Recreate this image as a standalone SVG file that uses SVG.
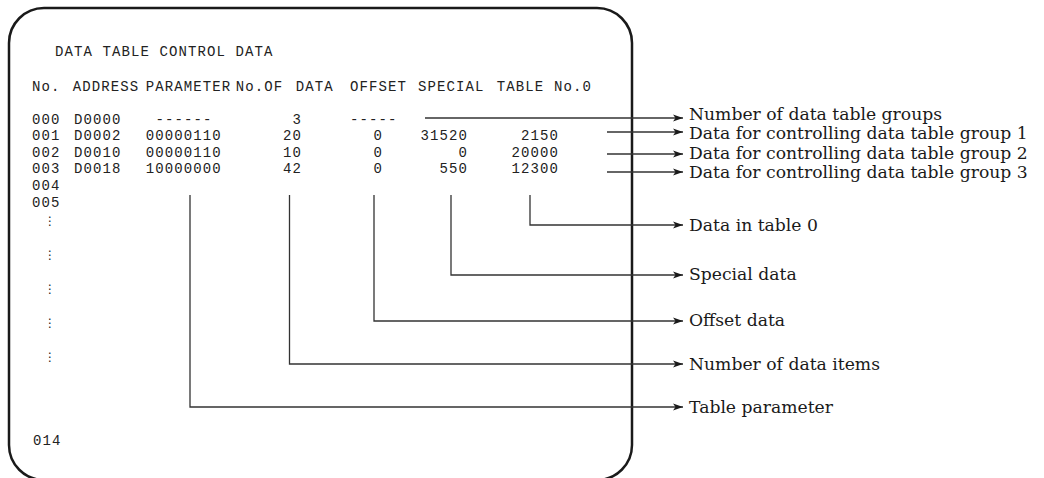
<svg xmlns="http://www.w3.org/2000/svg" width="1044" height="478" viewBox="0 0 1044 478">
<style>
.m{font-family:"Liberation Mono","Courier New",monospace;font-size:14px;letter-spacing:1.1px;fill:#222}
.e{text-anchor:end}
.d{font-family:"DejaVu Sans","Noto Sans",sans-serif;font-size:12px;fill:#222;text-anchor:middle}
.lb{font-family:"DejaVu Serif","Liberation Serif",serif;font-size:17.2px;fill:#1a1a1a}
.c{fill:none;stroke:#333;stroke-width:1.3}
</style>
<defs>
<marker id="ah" markerUnits="userSpaceOnUse" markerWidth="12" markerHeight="8" viewBox="-10 -4 12 8" refX="0" refY="0" orient="auto">
<path d="M0,0 L-10,-3.5 L-7.5,0 L-10,3.5 Z" fill="#1a1a1a"/>
</marker>
</defs>
<rect id="frame" x="9" y="8" width="623" height="472" rx="35" ry="35" fill="none" stroke="#1a1a1a" stroke-width="2.5"/>
<g id="screen">
<text class="m" x="55" y="56">DATA TABLE CONTROL DATA</text>
<text class="m" x="32" y="90.7">No.</text>
<text class="m" x="72.7" y="90.7">ADDRESS</text>
<text class="m" x="145.7" y="90.7">PARAMETER</text>
<text class="m" x="235.7" y="90.7">No.OF</text>
<text class="m" x="295.7" y="90.7">DATA</text>
<text class="m" x="350" y="90.7">OFFSET</text>
<text class="m" x="418" y="90.7">SPECIAL</text>
<text class="m" x="496.7" y="90.7">TABLE</text>
<text class="m" x="554" y="90.7">No.0</text>
<text class="m" x="32" y="123.5">000</text>
<text class="m" x="74" y="123.5">D0000</text>
<text class="m" x="155.5" y="123.5">------</text>
<text class="m e" x="302" y="123.5">3</text>
<text class="m" x="350" y="123.5">-----</text>
<text class="m" x="32" y="140">001</text>
<text class="m" x="74" y="140">D0002</text>
<text class="m" x="145.7" y="140">00000110</text>
<text class="m e" x="302" y="140">20</text>
<text class="m e" x="383" y="140">0</text>
<text class="m e" x="468" y="140">31520</text>
<text class="m e" x="559" y="140">2150</text>
<text class="m" x="32" y="156.7">002</text>
<text class="m" x="74" y="156.7">D0010</text>
<text class="m" x="145.7" y="156.7">00000110</text>
<text class="m e" x="302" y="156.7">10</text>
<text class="m e" x="383" y="156.7">0</text>
<text class="m e" x="468" y="156.7">0</text>
<text class="m e" x="559" y="156.7">20000</text>
<text class="m" x="32" y="173.3">003</text>
<text class="m" x="74" y="173.3">D0018</text>
<text class="m" x="145.7" y="173.3">10000000</text>
<text class="m e" x="302" y="173.3">42</text>
<text class="m e" x="383" y="173.3">0</text>
<text class="m e" x="468" y="173.3">550</text>
<text class="m e" x="559" y="173.3">12300</text>
<text class="m" x="32" y="190">004</text>
<text class="m" x="32" y="206.6">005</text>
<text class="d" x="50" y="225">⋮</text>
<text class="d" x="50" y="259">⋮</text>
<text class="d" x="50" y="293">⋮</text>
<text class="d" x="50" y="327">⋮</text>
<text class="d" x="50" y="361">⋮</text>
<text class="m" x="33" y="444.5">014</text>
</g>
<g id="connectors">
<path class="c" d="M425,118 H683" marker-end="url(#ah)"/>
<path class="c" d="M607,132 H683" marker-end="url(#ah)"/>
<path class="c" d="M607,154 H683" marker-end="url(#ah)"/>
<path class="c" d="M607,172 H683" marker-end="url(#ah)"/>
<path class="c" d="M530,195 V225 H683" marker-end="url(#ah)"/>
<path class="c" d="M451,195 V275 H683" marker-end="url(#ah)"/>
<path class="c" d="M374,195 V321 H683" marker-end="url(#ah)"/>
<path class="c" d="M289.5,195 V364 H683" marker-end="url(#ah)"/>
<path class="c" d="M190,195 V407 H683" marker-end="url(#ah)"/>
</g>
<g id="label-groups"><text class="lb" x="689" y="120">Number of data table groups</text></g>
<g id="label-group1"><text class="lb" x="689" y="139">Data for controlling data table group 1</text></g>
<g id="label-group2"><text class="lb" x="689" y="159">Data for controlling data table group 2</text></g>
<g id="label-group3"><text class="lb" x="689" y="177.5">Data for controlling data table group 3</text></g>
<g id="label-table0"><text class="lb" x="689" y="231">Data in table 0</text></g>
<g id="label-special"><text class="lb" x="689" y="280">Special data</text></g>
<g id="label-offset"><text class="lb" x="689" y="326">Offset data</text></g>
<g id="label-items"><text class="lb" x="689" y="369.5">Number of data items</text></g>
<g id="label-param"><text class="lb" x="689" y="412.5">Table parameter</text></g>
</svg>
